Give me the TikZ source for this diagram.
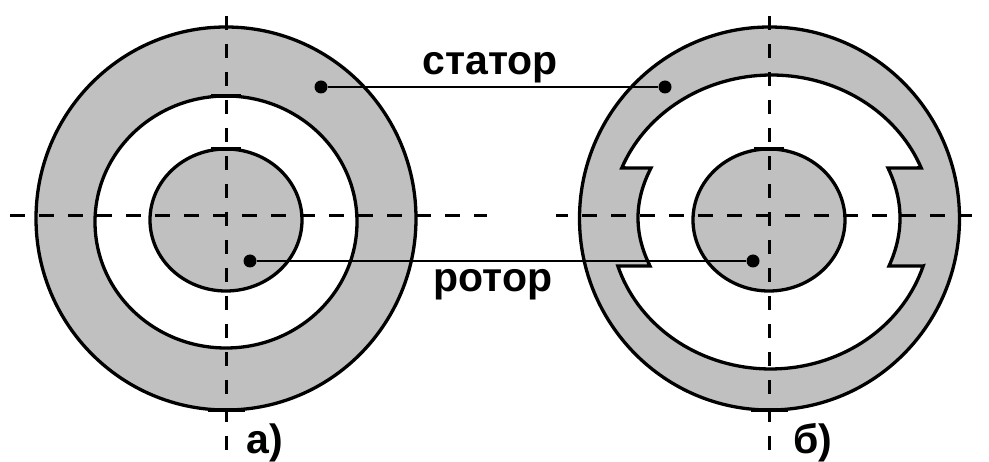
\documentclass[tikz,border=0pt]{standalone}
\usepackage{fontspec}
\setmainfont{Liberation Sans}
\definecolor{fillgray}{HTML}{C0C0C0}
\tikzset{
  x=1pt,y=-1pt,
  contour/.style={draw=black,line width=3.3pt},
  axisline/.style={draw=black,line width=3pt,dash pattern=on 15pt off 14pt},
  axisv/.style={draw=black,line width=3pt,dash pattern=on 14pt off 14pt},
  leader/.style={draw=black,line width=1.4pt},
  dotmark/.style={circle,fill=black,inner sep=0pt,minimum size=13pt},
  lbl/.style={inner sep=0pt,font=\fontsize{41}{44}\selectfont\bfseries},
  tick/.style={draw=black,line width=3.8pt}
}
\begin{document}
\begin{tikzpicture}
\useasboundingbox (0,0) rectangle (989,462);
% left machine
\path[contour,fill=fillgray] (226,218.5) ellipse [x radius=190,y radius=191.5];
\path[contour,fill=white] (226,222) ellipse [x radius=131,y radius=126];
\path[contour,fill=fillgray] (226,220) ellipse [x radius=76,y radius=71];
% right machine
\path[contour,fill=fillgray] (769.5,218.5) ellipse [x radius=190,y radius=191.5];
\path[contour,fill=white]
  plot[domain=158.4:21.6,samples=70] ({771.5+161*cos(\x)},{222-147*sin(\x)})
  -- (888,168) .. controls (903.7,200.7) and (904,233.3) .. (889,266)
  -- (923,266)
  -- plot[domain=-17.4:-162.6,samples=70] ({770.5+160*cos(\x)},{222-147*sin(\x)})
  -- (650,266) .. controls (633.7,233.3) and (634,200.7) .. (651,168)
  -- cycle;
\path[contour,fill=fillgray] (769,220) ellipse [x radius=76,y radius=71];
% thick flat spots
\draw[tick] (208,410) -- (245,410);
\draw[tick] (751,410) -- (788,410);
\draw[tick] (211,96) -- (241,96);
\draw[tick] (211,149) -- (241,149);
\draw[tick] (754,149) -- (784,149);
% axes
\draw[axisline] (10,216) -- (487,216);
\draw[axisline,dash phase=3pt] (556,216) -- (972,216);
\draw[axisv] (226,16) -- (226,462);
\draw[axisv] (769,16) -- (769,462);
% leaders
\node[dotmark] (s1) at (321,87) {};
\node[dotmark] (s2) at (665,87) {};
\node[dotmark] (r1) at (250,261) {};
\node[dotmark] (r2) at (753,261) {};
\draw[leader] (s1) -- (s2);
\draw[leader] (r1) -- (r2);
% labels
\node[lbl,anchor=base] (tstator) at (490,75) {статор};
\node[lbl,anchor=base] (trotor) at (493,292) {ротор};
\node[lbl,anchor=base] (ta) at (265,454) {а)};
\node[lbl,anchor=base] (tb) at (813,454) {б)};
\end{tikzpicture}
\end{document}
